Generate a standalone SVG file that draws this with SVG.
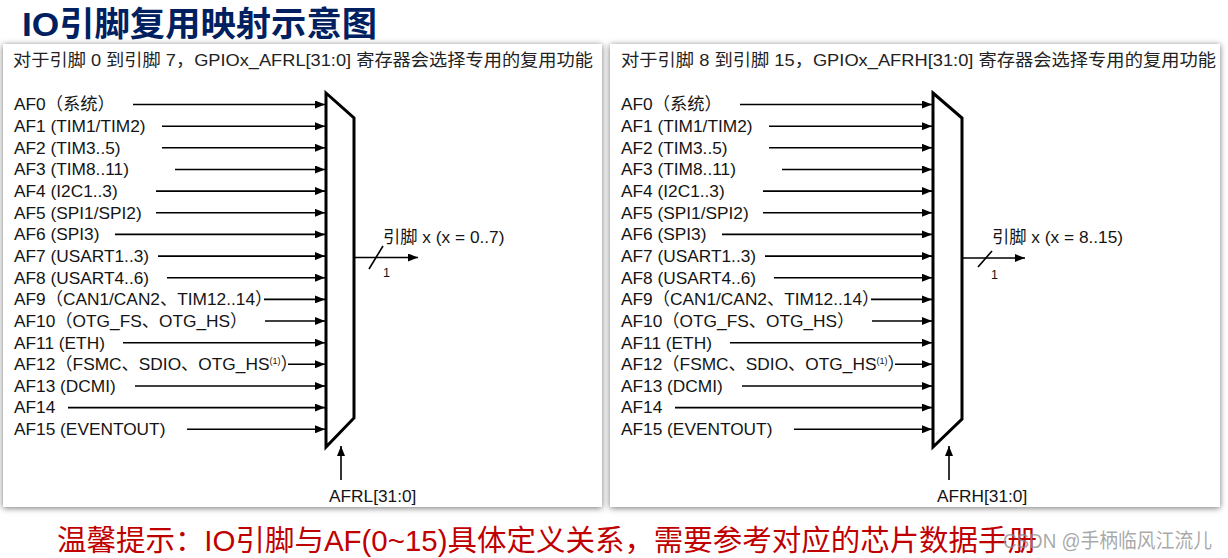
<svg xmlns="http://www.w3.org/2000/svg" width="1228" height="558" viewBox="0 0 1228 558">
<defs>
<style>
.t{font-family:"Liberation Sans","Noto Sans CJK SC",sans-serif;font-size:17.3px;fill:#141414}
.hd{font-family:"Liberation Sans","Noto Sans CJK SC",sans-serif;font-size:16.5px;fill:#222}
.ln{stroke:#000;stroke-width:1.6;fill:none}
.mux{stroke:#000;stroke-width:3;fill:#fff;stroke-linejoin:miter}
.box{fill:#fff}
.sm{font-family:"Liberation Sans",sans-serif;font-size:12.5px;fill:#141414}
</style>
<marker id="ah" viewBox="0 0 10 8" refX="10" refY="4" markerWidth="10" markerHeight="8" markerUnits="userSpaceOnUse" orient="auto">
<path d="M0,0 L10,4 L0,8 Z" fill="#000"/>
</marker>
<filter id="sh" x="-5%" y="-5%" width="110%" height="110%">
<feDropShadow dx="0" dy="1" stdDeviation="3" flood-color="#000" flood-opacity="0.55"/>
</filter>
</defs>
<rect width="1228" height="558" fill="#fff"/>
<g id="title">
<text x="22" y="36" textLength="355" lengthAdjust="spacingAndGlyphs" style="font-family:'Liberation Sans','Noto Sans CJK SC',sans-serif;font-size:34px;font-weight:bold;fill:#002060">IO引脚复用映射示意图</text>
</g>
<g id="panel-left-box"><rect class="box" x="3" y="44" width="599" height="463" filter="url(#sh)"/></g>
<g id="panel-right-box"><rect class="box" x="610" y="44" width="610" height="463" filter="url(#sh)"/></g>

<g id="panel-left">
<text class="hd" x="13" y="66" textLength="580" lengthAdjust="spacingAndGlyphs">对于引脚 0 到引脚 7，GPIOx_AFRL[31:0] 寄存器会选择专用的复用功能</text>
<g id="labels-left">
<text class="t" x="14" y="110.3">AF0（系统）</text>
<text class="t" x="14" y="132">AF1 (TIM1/TIM2)</text>
<text class="t" x="14" y="153.6">AF2 (TIM3..5)</text>
<text class="t" x="14" y="175.3">AF3 (TIM8..11)</text>
<text class="t" x="14" y="196.9">AF4 (I2C1..3)</text>
<text class="t" x="14" y="218.6">AF5 (SPI1/SPI2)</text>
<text class="t" x="14" y="240.2">AF6 (SPI3)</text>
<text class="t" x="14" y="261.9">AF7 (USART1..3)</text>
<text class="t" x="14" y="283.5">AF8 (USART4..6)</text>
<text class="t" x="14" y="305.2">AF9（CAN1/CAN2、TIM12..14）</text>
<text class="t" x="14" y="326.8">AF10（OTG_FS、OTG_HS）</text>
<text class="t" x="14" y="348.5">AF11 (ETH)</text>
<text class="t" x="14" y="370.1">AF12（FSMC、SDIO、OTG_HS<tspan font-size="9" dy="-6">(1)</tspan><tspan dy="6">）</tspan></text>
<text class="t" x="14" y="391.8">AF13 (DCMI)</text>
<text class="t" x="14" y="413.4">AF14</text>
<text class="t" x="14" y="435.1">AF15 (EVENTOUT)</text>
</g>
<g id="connectors-left" class="ln" marker-end="url(#ah)">
<line x1="133" y1="104.5" x2="325" y2="104.5"/>
<line x1="162" y1="126.2" x2="325" y2="126.2"/>
<line x1="162" y1="147.8" x2="325" y2="147.8"/>
<line x1="175" y1="169.5" x2="325" y2="169.5"/>
<line x1="156" y1="191.1" x2="325" y2="191.1"/>
<line x1="156" y1="212.8" x2="325" y2="212.8"/>
<line x1="115" y1="234.4" x2="325" y2="234.4"/>
<line x1="158" y1="256.1" x2="325" y2="256.1"/>
<line x1="167" y1="277.7" x2="325" y2="277.7"/>
<line x1="264" y1="299.4" x2="325" y2="299.4"/>
<line x1="265" y1="321" x2="325" y2="321"/>
<line x1="123" y1="342.7" x2="325" y2="342.7"/>
<line x1="288" y1="364.3" x2="325" y2="364.3"/>
<line x1="135" y1="386" x2="325" y2="386"/>
<line x1="68" y1="407.6" x2="325" y2="407.6"/>
<line x1="187" y1="429.3" x2="325" y2="429.3"/>
<line x1="354" y1="257.5" x2="418" y2="257.5"/>
<line x1="341" y1="480" x2="341" y2="446"/>
</g>
<line class="ln" x1="369" y1="269" x2="383" y2="246"/>
<g id="mux-left"><path class="mux" d="M326,93 L354,118 L354,418 L326,447 Z"/></g>
<text class="t" x="383" y="243">引脚 x (x = 0..7)</text>
<text class="sm" x="383" y="277">1</text>
<text class="t" x="329" y="502">AFRL[31:0]</text>
</g>

<g id="panel-right">
<text class="hd" x="621" y="66" textLength="595" lengthAdjust="spacingAndGlyphs">对于引脚 8 到引脚 15，GPIOx_AFRH[31:0] 寄存器会选择专用的复用功能</text>
<g id="labels-right" transform="translate(607,0)">
<text class="t" x="14" y="110.3">AF0（系统）</text>
<text class="t" x="14" y="132">AF1 (TIM1/TIM2)</text>
<text class="t" x="14" y="153.6">AF2 (TIM3..5)</text>
<text class="t" x="14" y="175.3">AF3 (TIM8..11)</text>
<text class="t" x="14" y="196.9">AF4 (I2C1..3)</text>
<text class="t" x="14" y="218.6">AF5 (SPI1/SPI2)</text>
<text class="t" x="14" y="240.2">AF6 (SPI3)</text>
<text class="t" x="14" y="261.9">AF7 (USART1..3)</text>
<text class="t" x="14" y="283.5">AF8 (USART4..6)</text>
<text class="t" x="14" y="305.2">AF9（CAN1/CAN2、TIM12..14）</text>
<text class="t" x="14" y="326.8">AF10（OTG_FS、OTG_HS）</text>
<text class="t" x="14" y="348.5">AF11 (ETH)</text>
<text class="t" x="14" y="370.1">AF12（FSMC、SDIO、OTG_HS<tspan font-size="9" dy="-6">(1)</tspan><tspan dy="6">）</tspan></text>
<text class="t" x="14" y="391.8">AF13 (DCMI)</text>
<text class="t" x="14" y="413.4">AF14</text>
<text class="t" x="14" y="435.1">AF15 (EVENTOUT)</text>
</g>
<g id="connectors-right" class="ln" marker-end="url(#ah)" transform="translate(607,0)">
<line x1="133" y1="104.5" x2="325" y2="104.5"/>
<line x1="162" y1="126.2" x2="325" y2="126.2"/>
<line x1="162" y1="147.8" x2="325" y2="147.8"/>
<line x1="175" y1="169.5" x2="325" y2="169.5"/>
<line x1="156" y1="191.1" x2="325" y2="191.1"/>
<line x1="156" y1="212.8" x2="325" y2="212.8"/>
<line x1="115" y1="234.4" x2="325" y2="234.4"/>
<line x1="158" y1="256.1" x2="325" y2="256.1"/>
<line x1="167" y1="277.7" x2="325" y2="277.7"/>
<line x1="264" y1="299.4" x2="325" y2="299.4"/>
<line x1="265" y1="321" x2="325" y2="321"/>
<line x1="123" y1="342.7" x2="325" y2="342.7"/>
<line x1="288" y1="364.3" x2="325" y2="364.3"/>
<line x1="135" y1="386" x2="325" y2="386"/>
<line x1="68" y1="407.6" x2="325" y2="407.6"/>
<line x1="187" y1="429.3" x2="325" y2="429.3"/>
<line x1="355" y1="258" x2="418" y2="258"/>
<line x1="342" y1="480" x2="342" y2="446"/>
</g>
<line class="ln" x1="978" y1="267" x2="992" y2="251"/>
<g id="mux-right"><path class="mux" d="M933,93 L962,118 L962,419 L933,447 Z"/></g>
<text class="t" x="992" y="243">引脚 x (x = 8..15)</text>
<text class="sm" x="991" y="279">1</text>
<text class="t" x="937" y="502">AFRH[31:0]</text>
</g>

<g id="footer">
<text x="57" y="551" textLength="980" lengthAdjust="spacingAndGlyphs" style="font-family:'Liberation Sans','Noto Sans CJK SC',sans-serif;font-size:29px;fill:#c00000">温馨提示：IO引脚与AF(0~15)具体定义关系，需要参考对应的芯片数据手册</text>
<text x="1003" y="548" textLength="209" lengthAdjust="spacingAndGlyphs" style="font-family:'Liberation Sans','Noto Sans CJK SC',sans-serif;font-size:20px;fill:#8c8c8c;fill-opacity:0.75">CSDN @手柄临风江流儿</text>
</g>
</svg>
